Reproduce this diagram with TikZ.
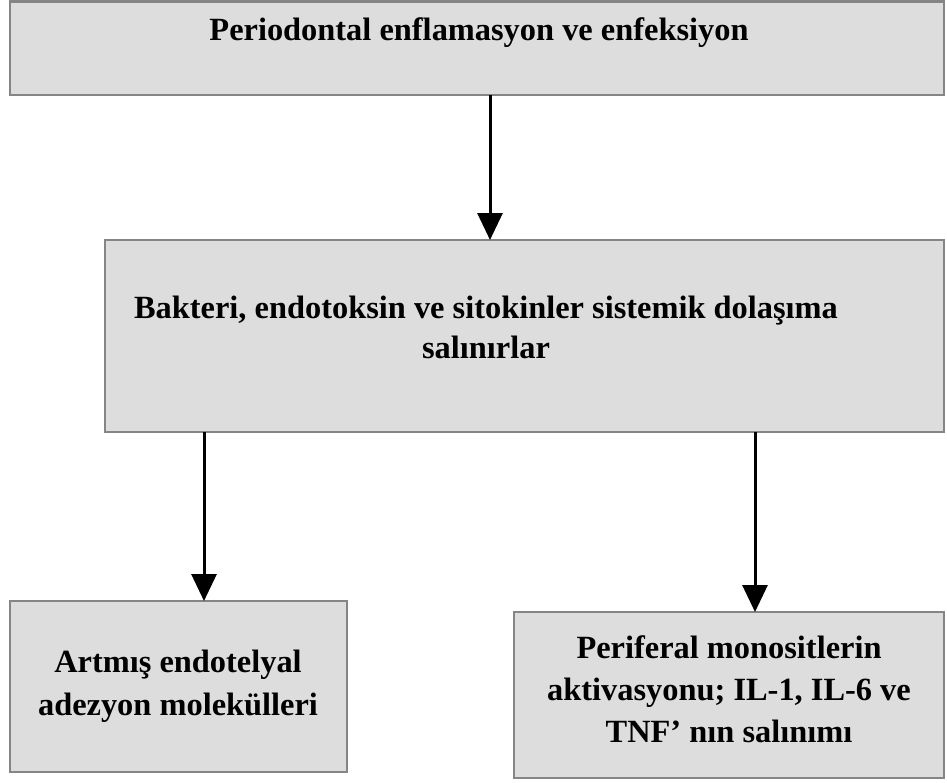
\documentclass[tikz,border=0pt]{standalone}
\usepackage{fontspec}
\setmainfont{Liberation Serif}
\usetikzlibrary{arrows.meta}
\begin{document}
\begin{tikzpicture}[x=1pt,y=-1pt,
  box/.style={draw=boxedge,fill=boxfill,line width=2.5pt,rectangle,anchor=north west,inner sep=0pt,outer sep=0pt},
  txt/.style={align=center,inner sep=0pt,font=\bfseries\fontsize{32.4}{40}\selectfont},
  arr/.style={line width=3pt,-{Triangle[width=25pt,length=27pt]}}]
\definecolor{boxedge}{HTML}{858585}
\definecolor{boxfill}{HTML}{DDDDDD}
\useasboundingbox (0,0) rectangle (947,782);
\node[box,minimum width=934pt,minimum height=93.5pt] (b1) at (10,1.5) {};
\node[box,minimum width=839pt,minimum height=192pt] (b2) at (105,240) {};
\node[box,minimum width=337pt,minimum height=171pt] (b3) at (10,601) {};
\node[box,minimum width=430pt,minimum height=166pt] (b4) at (514,612) {};
\node[txt] (t1) at (479,33) {Periodontal enflamasyon ve enfeksiyon};
\node[txt] (t2) at (486,327.5) {Bakteri, endotoksin ve sitokinler sistemik dolaşıma\\salınırlar};
\node[txt,font=\bfseries\fontsize{32.4}{43}\selectfont] (t3) at (178,686) {Artmış endotelyal\\adezyon molekülleri};
\node[txt,font=\bfseries\fontsize{32.4}{42}\selectfont] (t4) at (729,689) {Periferal monositlerin\\aktivasyonu; IL-1, IL-6 ve\\TNF’ nın salınımı};
\coordinate (x1) at (490,0);
\coordinate (x2) at (204,0);
\coordinate (x3) at (755,0);
\draw[arr] (b1.south -| x1) -- (b2.north -| x1);
\draw[arr] (b2.south -| x2) -- (b3.north -| x2);
\draw[arr] (b2.south -| x3) -- (b4.north -| x3);
\end{tikzpicture}
\end{document}
